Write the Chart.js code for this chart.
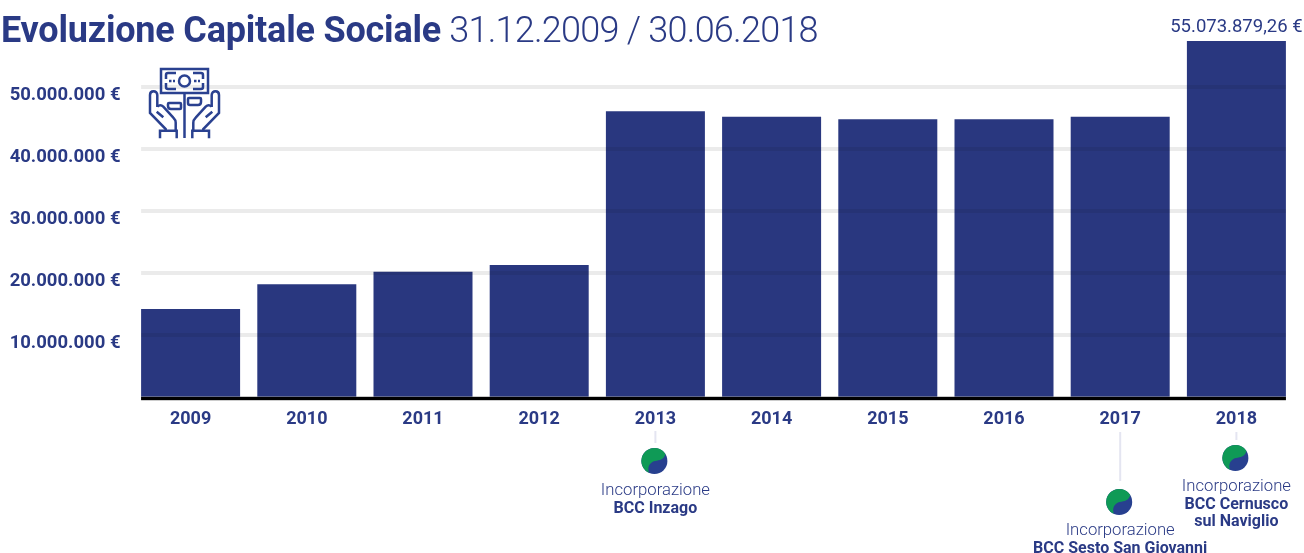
<!DOCTYPE html>
<html>
<head>
<meta charset="utf-8">
<style>
  html, body { margin: 0; padding: 0; background: #fff; }
  #wrap { position: relative; width: 1304px; height: 553px; overflow: hidden; }
  #titolo { position: absolute; left: 1px; top: 8px; font-family: Roboto, sans-serif; font-size: 36px; line-height: 44px;
            color: #2a3a85; white-space: nowrap; letter-spacing: -0.75px; }
  #titolo b { font-weight: 700; letter-spacing: -0.2px; }
  #titolo span { font-weight: 300; }
  #icona { position: absolute; left: 148px; top: 67px; }
</style>
</head>
<body>
<div id="wrap">
  <canvas id="grafico" width="1304" height="553"></canvas>
  <div id="titolo"><b>Evoluzione Capitale Sociale</b> <span>31.12.2009 / 30.06.2018</span></div>
  <svg id="icona" width="74" height="72" viewBox="0 0 74 72" fill="none" stroke="#2a4190" stroke-width="2.500">
    <rect x="13" y="2" width="47" height="24"/>
    <path d="M18 12V8q0-2 2-2h8M45 6h8q2 0 2 2v4M18 16v4q0 2 2 2h8M45 22h8q2 0 2-2v-4"/>
    <circle cx="36.500" cy="14" r="5.500"/>
    <path d="M21 14h6M46 14h6" stroke-dasharray="2.500 1.500"/>
    <path d="M36.500 26v45"/>
    <path d="M20 37q0-1 1-1h11q1 0 1 1v4q0 1-1 1H23q-3 0-3-3z"/>
    <path d="M53 32q0-1-1-1H41q-1 0-1 1v4q0 2 2 2h8q3 0 3-3z"/>
    <g>
      <path d="M2 28c0-5 7.300-5 7.300 0v12M2 28v18l15.700 16v1.700"/>
      <path d="M8.700 44.700l6.600 5.600M9.300 39.700c2-2 4-2 6 0l10 11c2 2 2.400 3 2.400 5v8"/>
      <path d="M12 71.300v-7.600h16.700v7.600"/>
    </g>
    <g transform="translate(73,0) scale(-1,1)">
      <path d="M2 28c0-5 7.300-5 7.300 0v12M2 28v18l15.700 16v1.700"/>
      <path d="M8.700 44.700l6.600 5.600M9.300 39.700c2-2 4-2 6 0l10 11c2 2 2.400 3 2.400 5v8"/>
      <path d="M12 71.300v-7.600h16.700v7.600"/>
    </g>
  </svg>
</div>
<script src="https://cdn.jsdelivr.net/npm/chart.js@4"></script>
<script>
const anni = ['2009', '2010', '2011', '2012', '2013', '2014', '2015', '2016', '2017', '2018'];
// altezze: l'ultimo bar arriva a 57,4 mln sulla griglia anche se l'etichetta dice 55,07
const capitale = [14200000, 18200000, 20200000, 21300000, 46100000, 45200000, 44800000, 44800000, 45200000, 57400000];
const tickValori = [10000000, 20000000, 30000000, 40000000, 50000000];
const tickTesti = ['10.000.000 €', '20.000.000 €', '30.000.000 €', '40.000.000 €', '50.000.000 €'];
const etichettaUltimo = '55.073.879,26 €';

const incorporazioni = [
  { anno: '2013', stelo: [431, 443], cerchio: 461, testo: 490, righe: ['BCC Inzago'] },
  { anno: '2017', stelo: [432, 481], cerchio: 502, testo: 530, righe: ['BCC Sesto San Giovanni'] },
  { anno: '2018', stelo: [432, 440], cerchio: 458, testo: 486, righe: ['BCC Cernusco', 'sul Naviglio'] }
];

const blu = '#29377f';
const bluTesto = '#2a3a85';
const verde = '#0f9a56';
const bluCerchio = '#27408f';

// griglia solo dal primo all'ultimo bar, passa anche sopra i bar (multiply)
const griglia = {
  id: 'griglia',
  afterDatasetsDraw(chart) {
    const ctx = chart.ctx;
    const barre = chart.getDatasetMeta(0).data;
    const sx = barre[0].x - barre[0].width / 2;
    const dx = barre[9].x + barre[9].width / 2;
    const y0 = chart.scales.y.getPixelForValue(0);
    ctx.save();
    ctx.globalCompositeOperation = 'multiply';
    ctx.strokeStyle = '#ebebeb';
    ctx.lineWidth = 4;
    tickValori.forEach(function (v) {
      const y = chart.scales.y.getPixelForValue(v);
      ctx.beginPath();
      ctx.moveTo(sx, y);
      ctx.lineTo(dx, y);
      ctx.stroke();
    });
    ctx.globalCompositeOperation = 'source-over';
    ctx.fillStyle = '#999';
    ctx.fillRect(sx, y0 - 0.5, dx - sx, 4);
    ctx.fillStyle = '#000';
    ctx.fillRect(sx, y0, dx - sx, 3);
    // etichetta sull'ultimo bar
    ctx.fillStyle = bluTesto;
    ctx.font = '400 18.5px Roboto';
    ctx.textAlign = 'center';
    ctx.textBaseline = 'alphabetic';
    ctx.fillText(etichettaUltimo, barre[9].x, 32);
    ctx.restore();
  }
};

// cerchio blu con la parte verde in alto a sinistra, separate da una S
function cerchio(ctx, x, y, r) {
  ctx.save();
  ctx.translate(x, y);
  ctx.scale(r, r);
  ctx.fillStyle = bluCerchio;
  ctx.beginPath();
  ctx.arc(0, 0, 1, 0, Math.PI * 2);
  ctx.fill();
  ctx.fillStyle = verde;
  ctx.beginPath();
  ctx.arc(0, 0, 1, -0.56, -4.28, true);
  ctx.bezierCurveTo(-0.6, 0.3, -0.2, 0.05, 0.05, 0);
  ctx.bezierCurveTo(0.4, -0.05, 0.75, -0.1, 0.85, -0.53);
  ctx.fill();
  ctx.restore();
}

const note = {
  id: 'note',
  afterDraw(chart) {
    const ctx = chart.ctx;
    ctx.save();
    ctx.textAlign = 'center';
    ctx.textBaseline = 'alphabetic';
    incorporazioni.forEach(function (n) {
      const x = chart.scales.x.getPixelForValue(anni.indexOf(n.anno));
      ctx.strokeStyle = '#e4e5f1';
      ctx.lineWidth = 2;
      ctx.beginPath();
      ctx.moveTo(x, n.stelo[0]);
      ctx.lineTo(x, n.stelo[1]);
      ctx.stroke();
      cerchio(ctx, x - 1, n.cerchio, 13);
      ctx.fillStyle = bluTesto;
      ctx.font = '300 16.700px Roboto';
      ctx.fillText('Incorporazione', x, n.testo + 5);
      ctx.font = '700 16px Roboto';
      n.righe.forEach(function (r, i) {
        ctx.fillText(r, x, n.testo + 23 + i * 17);
      });
    });
    ctx.restore();
  }
};

new Chart(document.getElementById('grafico'), {
  type: 'bar',
  data: {
    labels: anni,
    datasets: [{ data: capitale, backgroundColor: blu, categoryPercentage: 1, barPercentage: 0.852 }]
  },
  plugins: [griglia, note],
  options: {
    responsive: false,
    animation: false,
    layout: { padding: { left: 0, right: 9.5, top: 25, bottom: 126 } },
    plugins: { legend: { display: false }, title: { display: false }, tooltip: { enabled: false } },
    scales: {
      x: {
        afterFit(scale) { scale.height = 30; },
        grid: { display: false },
        border: { display: false },
        ticks: { color: bluTesto, font: { family: 'Roboto', size: 18, weight: '700' }, padding: 4, maxRotation: 0 }
      },
      y: {
        min: 0,
        max: 60000000,
        afterFit(scale) { scale.width = 132.5; },
        afterBuildTicks(scale) { scale.ticks = tickValori.map(function (v) { return { value: v }; }); },
        grid: { display: false },
        border: { display: false },
        ticks: {
          color: bluTesto,
          font: { family: 'Roboto', size: 18.5, weight: '700' },
          padding: 4,
          labelOffset: 8,
          callback(v) { return tickTesti[tickValori.indexOf(v)]; }
        }
      }
    }
  }
});
</script>
</body>
</html>
